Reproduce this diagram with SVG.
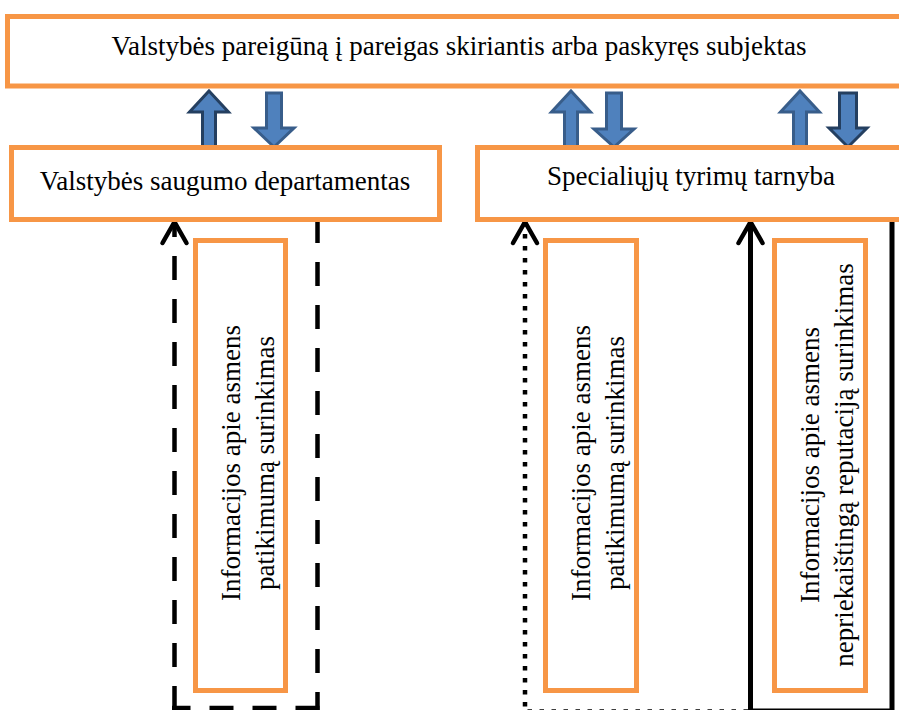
<svg xmlns="http://www.w3.org/2000/svg" width="899" height="710" viewBox="0 0 899 710">
<style>
.box{fill:#fff;stroke:#F79646;stroke-width:5}
.t{font-family:"Liberation Serif","Times New Roman",serif;font-size:27px;fill:#000;text-anchor:middle}
.ba{fill:#4F81BD;stroke-width:3;stroke-linejoin:miter}
.mid{stroke:#385D8A}
.dark{stroke:#243F60}
.ln{fill:none;stroke:#000}
.dash{stroke-width:4.5;stroke-dasharray:24 19}
</style>
<defs>
<marker id="chev" markerUnits="userSpaceOnUse" markerWidth="40" markerHeight="40" refX="0" refY="0" orient="auto" viewBox="-30 -20 40 40" overflow="visible">
<path d="M-21,-12 L0,0 L-21,12" fill="none" stroke="#000" stroke-width="4.5" stroke-linecap="round" stroke-linejoin="miter"/>
</marker>
</defs>
<rect width="899" height="710" fill="#fff"/>
<g id="connectors">
<polygon class="ba dark" points="209,91 228.5,112 215.5,112 215.5,148 202.5,148 202.5,112 189.5,112"/>
<polygon class="ba mid" points="266.5,93 281.5,93 281.5,128 294,128 274,147 254,128 266.5,128"/>
<polygon class="ba mid" points="571,91 590.5,112 577.5,112 577.5,148 564.5,148 564.5,112 551.5,112"/>
<polygon class="ba mid" points="606.5,93 621.5,93 621.5,129 634,129 614,147 594,129 606.5,129"/>
<polygon class="ba mid" points="800,91 819.5,112 806.5,112 806.5,148 793.5,148 793.5,112 780.5,112"/>
<polygon class="ba dark" points="839.5,93 856.5,93 856.5,128 867,128 848,147 829,128 839.5,128"/>
<path class="ln dash" d="M317.5,219 V710"/>
<path class="ln dash" d="M319.5,708 H172"/>
<path class="ln dash" d="M174.5,710 V222" marker-end="url(#chev)"/>
<path class="ln" d="M748,711.5 H525 V222" stroke-width="4.5" stroke-dasharray="4.5 7.5" marker-end="url(#chev)"/>
<path class="ln" d="M892,219 V711 H750.5 V222" stroke-width="5" marker-end="url(#chev)"/>
</g>
<g id="title">
<rect class="box" x="7.5" y="16.5" width="900" height="69.5"/>
<text class="t" x="459" y="55">Valstybės pareigūną į pareigas skiriantis arba paskyręs subjektas</text>
</g>
<g id="vsd">
<rect class="box" x="11.5" y="147.5" width="428" height="72"/>
<text class="t" x="225" y="190">Valstybės saugumo departamentas</text>
</g>
<g id="stt">
<rect class="box" x="477.5" y="147.5" width="430" height="72"/>
<text class="t" x="691" y="185">Specialiųjų tyrimų tarnyba</text>
</g>
<g id="vsd-info">
<rect class="box" x="195.5" y="240.5" width="90" height="450"/>
<text class="t" transform="translate(240,463) rotate(-90)">Informacijos apie asmens</text>
<text class="t" transform="translate(274,463) rotate(-90)">patikimumą surinkimas</text>
</g>
<g id="stt-info1">
<rect class="box" x="545.5" y="240.5" width="91" height="450"/>
<text class="t" transform="translate(590,463) rotate(-90)">Informacijos apie asmens</text>
<text class="t" transform="translate(624,463) rotate(-90)">patikimumą surinkimas</text>
</g>
<g id="stt-info2">
<rect class="box" x="774.5" y="240.5" width="91" height="450"/>
<text class="t" transform="translate(819,465) rotate(-90)">Informacijos apie asmens</text>
<text class="t" transform="translate(853,465) rotate(-90)">nepriekaištingą reputaciją surinkimas</text>
</g>
</svg>
